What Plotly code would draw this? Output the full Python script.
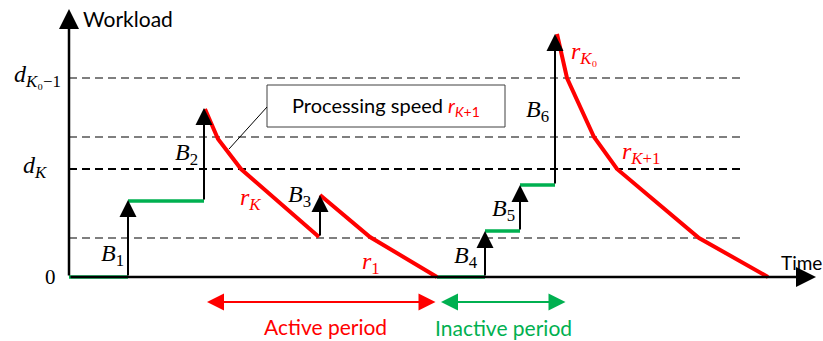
import plotly.graph_objects as go

# ---- data (time units, workload units) ----
green_t = [[0, 59], [59, 135], [368, 416], [416, 451], [451, 486]]
green_w = [[0, 0], [76, 76], [0, 0], [46, 46], [92, 92]]

arrival_t = [59, 135, 251, 416, 451, 486]
arrival_from = [0, 76, 40, 0, 46, 92]
arrival_to = [77, 169, 82, 46, 92, 243]
arrival_labels = ["B1", "B2", "B3", "B4", "B5", "B6"]

red_t = [[136, 149, 172, 250], [251, 301, 368], [488, 498, 525, 548, 630, 699]]
red_w = [[168, 138, 108, 40], [82, 40, 0], [243, 199, 140, 108, 39, 0]]

levels = [199, 140, 108, 39]
level_labels = ["d_K0-1", "", "d_K", ""]
level_end = 671

active_period = [138, 368]
inactive_period = [372, 498]

RED = "#FF0000"
GREEN = "#00B050"
GREY = "#7F7F7F"
MATH = "Liberation Serif"
SANS = "Lato"

fig = go.Figure()

# dashed levels
for i, lv in enumerate(levels):
    col = "black" if level_labels[i] == "d_K" else GREY
    fig.add_trace(go.Scatter(x=[0, level_end], y=[lv, lv], mode="lines",
                             line=dict(color=col, width=2, dash="8px,5px"),
                             hoverinfo="skip", showlegend=False))

# green idle segments
for t, w in zip(green_t, green_w):
    fig.add_trace(go.Scatter(x=t, y=w, mode="lines", line=dict(color=GREEN, width=3.5),
                             hoverinfo="skip", showlegend=False))

# red processing
for t, w in zip(red_t, red_w):
    fig.add_trace(go.Scatter(x=t, y=w, mode="lines", line=dict(color=RED, width=4),
                             hoverinfo="skip", showlegend=False))

ann = []
# axes arrows
ann.append(dict(x=0, y=268, ax=0, ay=0, xref="x", yref="y", axref="x", ayref="y",
                showarrow=True, arrowhead=2, arrowsize=1.6, arrowwidth=2.5, arrowcolor="black", text=""))
ann.append(dict(x=747, y=0, ax=0, ay=0, xref="x", yref="y", axref="x", ayref="y",
                showarrow=True, arrowhead=2, arrowsize=1.6, arrowwidth=2.5, arrowcolor="black", text=""))

# arrivals
for t, a, b in zip(arrival_t, arrival_from, arrival_to):
    ann.append(dict(x=t, y=b, ax=t, ay=a, xref="x", yref="y", axref="x", ayref="y",
                    showarrow=True, arrowhead=2, arrowsize=1.7, arrowwidth=2, arrowcolor="black", text=""))

label_pos = [(43, 22), (117, 123), (230, 81), (397, 20), (434, 67), (468, 166)]
for lab, (t, w) in zip(arrival_labels, label_pos):
    ann.append(dict(x=t, y=w, text="<i>B</i><sub>%s</sub>" % lab[1:], showarrow=False,
                    xref="x", yref="y", font=dict(family=MATH, size=24, color="black")))

# red rate labels
rates = [("<i>r</i><sub><i>K</i></sub>", 181, 78), ("<i>r</i><sub>1</sub>", 302, 14),
         ("<i>r</i><sub><i>K</i>₀</sub>", 515, 224), ("<i>r</i><sub><i>K</i>+1</sub>", 572, 124)]
for txt, t, w in rates:
    ann.append(dict(x=t, y=w, text=txt, showarrow=False, xref="x", yref="y",
                    font=dict(family=MATH, size=24, color=RED)))

# level labels
ann.append(dict(x=-32, y=201, text="<i>d</i><sub><i>K</i>₀−1</sub>", showarrow=False, xref="x", yref="y",
                font=dict(family=MATH, size=24, color="black")))
ann.append(dict(x=-34, y=110, text="<i>d</i><sub><i>K</i></sub>", showarrow=False, xref="x", yref="y",
                font=dict(family=MATH, size=24, color="black")))
ann.append(dict(x=-19, y=0, text="0", showarrow=False, xref="x", yref="y",
                font=dict(family=MATH, size=21, color="black")))

# axis titles
ann.append(dict(x=12, y=259, text="Workload", showarrow=False, xref="x", yref="y", xanchor="left",
                font=dict(family=SANS, size=21, color="black")))
ann.append(dict(x=710, y=15, text="Time", showarrow=False, xref="x", yref="y", xanchor="left",
                font=dict(family=SANS, size=19, color="black")))

# processing speed box
ann.append(dict(x=317, y=171, text="Processing speed <span style='color:#FF0000'><i>r</i><sub><i>K</i>+1</sub></span>",
                showarrow=False, xref="x", yref="y", font=dict(family=SANS, size=20, color="black")))

# period arrows
ann.append(dict(x=active_period[0], y=-25, ax=active_period[1], ay=-25, xref="x", yref="y", axref="x", ayref="y",
                showarrow=True, arrowhead=2, startarrowhead=2, arrowside="end+start", arrowsize=1.7,
                startarrowsize=1.7, arrowwidth=2, arrowcolor=RED, text=""))
ann.append(dict(x=inactive_period[0], y=-25, ax=inactive_period[1], ay=-25, xref="x", yref="y", axref="x", ayref="y",
                showarrow=True, arrowhead=2, startarrowhead=2, arrowside="end+start", arrowsize=1.7,
                startarrowsize=1.7, arrowwidth=2, arrowcolor=GREEN, text=""))
ann.append(dict(x=sum(active_period) / 2 + 3, y=-49, text="Active period", showarrow=False, xref="x", yref="y",
                font=dict(family=SANS, size=21, color=RED)))
ann.append(dict(x=sum(inactive_period) / 2 - 1, y=-50, text="Inactive period", showarrow=False, xref="x", yref="y",
                font=dict(family=SANS, size=21, color=GREEN)))

shapes = [
    dict(type="rect", x0=198, x1=436, y0=150, y1=192, xref="x", yref="y",
         line=dict(color="#404040", width=1), fillcolor="white", layer="above"),
    dict(type="line", x0=198, y0=170, x1=160, y1=128, xref="x", yref="y",
         line=dict(color="black", width=1)),
]

fig.update_layout(
    width=823, height=341, margin=dict(l=0, r=0, t=0, b=0),
    paper_bgcolor="white", plot_bgcolor="white",
    xaxis=dict(range=[-69, 754], visible=False, fixedrange=True),
    yaxis=dict(range=[-64, 277], visible=False, fixedrange=True),
    annotations=ann, shapes=shapes, showlegend=False,
)

fig.write_html("out.html")
